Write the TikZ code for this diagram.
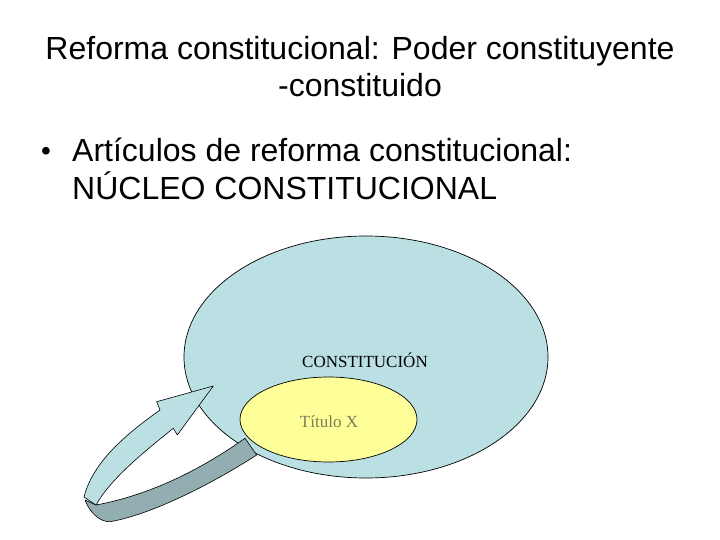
\documentclass[tikz,border=0pt]{standalone}
\usepackage{fontspec}
\setmainfont{Liberation Serif}
\newfontfamily\arialf{Liberation Sans}
\usetikzlibrary{shapes.geometric}
\definecolor{lblue}{RGB}{187,224,227}
\definecolor{lyellow}{RGB}{255,255,153}
\definecolor{dband}{RGB}{146,174,176}
\definecolor{olivegray}{RGB}{125,125,90}
\tikzset{
  titletext/.style={font=\arialf\fontsize{32}{37}\selectfont, anchor=base, inner sep=0pt},
  bullettext/.style={font=\arialf\fontsize{32}{37}\selectfont, anchor=base west, inner sep=0pt},
  bulletmark/.style={font=\arialf\fontsize{28}{32}\selectfont, anchor=base, inner sep=0pt},
  bigell/.style={ellipse, draw=black, fill=lblue, line width=0.7pt, inner sep=0pt},
  smallell/.style={ellipse, draw=black, fill=lyellow, line width=0.7pt, inner sep=0pt},
  serifl/.style={font=\fontsize{17}{20}\selectfont, anchor=base, inner sep=0pt},
  ribbon/.style={draw=black, line width=0.6pt, line join=round}
}
\begin{document}
\begin{tikzpicture}[x=1pt,y=-1pt]
\useasboundingbox[fill=white] (0,0) rectangle (720,540);
% title
\node[titletext] (t1) at (360,60) {Reforma constitucional: Poder constituyente};
\node[titletext] (t2) at (360,97) {-constituido};
% bullet
\node[bulletmark] (bul) at (46,160.5) {•};
\node[bullettext] (b1) at (72,162) {Artículos de reforma constitucional:};
\node[bullettext] (b2) at (72,200) {NÚCLEO CONSTITUCIONAL};
% ellipses
\node[bigell, minimum width=364pt, minimum height=242pt] (const) at (366,357) {};
\node[serifl] (constl) at (365,367) {CONSTITUCIÓN};
\node[smallell, minimum width=177pt, minimum height=85pt] (titx) at (328.5,419.5) {};
\node[serifl, text=olivegray] (titxl) at (329,427) {Título X};
% curved arrow: dark band
\path[ribbon, fill=dband] (85,500) -- (96,505)
  .. controls (150,495) and (200,470) .. (245,438.3)
  -- (256.7,455)
  .. controls (210,485) and (150,515) .. (110,521.7)
  .. controls (100,522) and (90,513) .. (85,500) -- cycle;
% curved arrow: light front with head
\path[ribbon, fill=lblue] (84,497)
  .. controls (93,462) and (125,435) .. (160,410)
  -- (156.7,401.7) -- (213.3,386) -- (177.3,435) -- (173.3,428.3)
  .. controls (140,455) and (110,480) .. (96,505) -- cycle;
\end{tikzpicture}
\end{document}
